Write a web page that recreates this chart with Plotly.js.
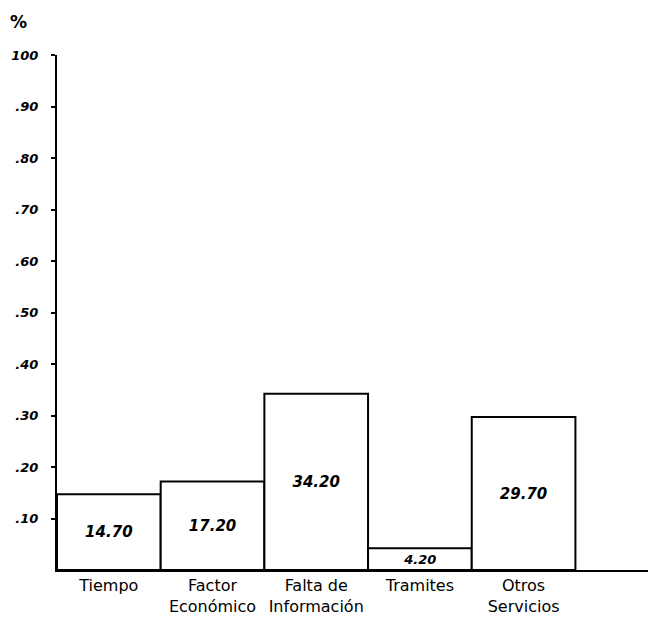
<!DOCTYPE html>
<html>
<head>
<meta charset="utf-8">
<script src="https://cdn.plot.ly/plotly-3.0.1.min.js"></script>
<style>html,body{margin:0;padding:0;background:#fff;}#chart{width:648px;height:629px;}</style>
</head>
<body>
<div id="chart"></div>
<script>
const categories = ["Tiempo", "Factor<br>Económico", "Falta de<br>Información", "Tramites", "Otros<br>Servicios"];
const values = [14.70, 17.20, 34.20, 4.20, 29.70];
const yTickVals = [10, 20, 30, 40, 50, 60, 70, 80, 90, 100];
const yTickText = [".10", ".20", ".30", ".40", ".50", ".60", ".70", ".80", ".90", "100"];

const hand = "DejaVu Sans";

const trace = {
  type: "bar",
  x: [0, 1, 2, 3, 4],
  y: values,
  width: 1,
  marker: {color: "#ffffff", line: {color: "#000000", width: 2}},
  text: values.map(v => v.toFixed(2)),
  textposition: "inside",
  insidetextanchor: "middle",
  textangle: 0,
  textfont: {family: hand, size: 15, color: "#000", weight: "bold", style: "italic"},
  hoverinfo: "skip"
};

const layout = {
  width: 648, height: 629,
  margin: {l: 57, r: 0, t: 55, b: 59},
  paper_bgcolor: "#fff", plot_bgcolor: "#fff",
  showlegend: false,
  bargap: 0,
  font: {family: hand, color: "#000"},
  xaxis: {
    range: [-0.5, 5.2],
    tickvals: [0, 1, 2, 3, 4],
    ticktext: categories,
    showgrid: false, zeroline: false,
    showline: true, linecolor: "#000", linewidth: 2,
    ticks: "",
    tickfont: {family: hand, size: 16, color: "#000"},
    fixedrange: true
  },
  yaxis: {
    range: [0, 100],
    tickvals: yTickVals,
    ticktext: yTickText,
    showgrid: false, zeroline: false,
    showline: true, linecolor: "#000", linewidth: 2,
    ticks: "outside", ticklen: 4, tickwidth: 2, tickcolor: "#000",
    ticklabelstandoff: 10,
    tickfont: {family: hand, size: 13, color: "#000", weight: "bold", style: "italic"},
    fixedrange: true
  },
  annotations: [{
    text: "%", xref: "paper", yref: "paper", x: -0.065, y: 1.065,
    showarrow: false, xanchor: "center", yanchor: "middle",
    font: {family: hand, size: 17, color: "#000", weight: "bold"}
  }]
};

Plotly.newPlot("chart", [trace], layout, {displayModeBar: false, staticPlot: true});
</script>
</body>
</html>
